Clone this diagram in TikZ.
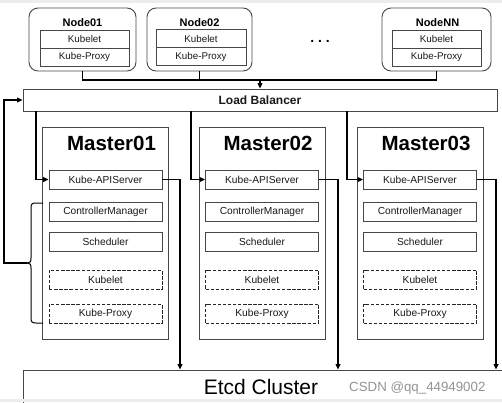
\documentclass[tikz,border=0pt]{standalone}
\usepackage{fontspec}
\setmainfont{Liberation Sans}
\usetikzlibrary{arrows.meta}
\begin{document}
\begin{tikzpicture}[x=1pt,y=-1pt,
  box/.style={draw=black!72,line width=0.9pt,inner sep=0pt,fill=white,text=black!90},
  nodebox/.style={box,rounded corners=9pt,minimum height=63pt},
  inner/.style={box,minimum height=18pt,font=\fontsize{9.8}{10}\selectfont},
  comp/.style={box,minimum width=113pt,minimum height=19pt,font=\fontsize{10.2}{11}\selectfont},
  dcomp/.style={comp,draw=black!85,line width=1pt,dash pattern=on 3.4pt off 1.7pt},
  master/.style={box,minimum width=126pt,minimum height=212pt},
  ntitle/.style={inner sep=0pt,font=\bfseries\fontsize{11}{12}\selectfont},
  mtitle/.style={inner sep=0pt,font=\bfseries\fontsize{20.5}{22}\selectfont},
  conn/.style={draw=black,line width=1.2pt},
  arr/.style={conn,-{Triangle[length=5.5pt,width=4.8pt]}}
]
\useasboundingbox (0,0) rectangle (502,402);
\fill[white] (0,0) rectangle (502,402);

% worker nodes
\node[nodebox,minimum width=107pt] (n1) at (82.5,39.5) {};
\node[ntitle] (n1t) at (82.5,23) {Node01};
\node[inner,minimum width=89pt] (n1k) at (84.5,39) {Kubelet};
\node[inner,minimum width=89pt] (n1p) at (84.5,57) {Kube-Proxy};

\node[nodebox,minimum width=105pt] (n2) at (199.5,39.5) {};
\node[ntitle] (n2t) at (199.5,23) {Node02};
\node[inner,minimum width=90pt] (n2k) at (201,38.5) {Kubelet};
\node[inner,minimum width=90pt] (n2p) at (201,56.5) {Kube-Proxy};

\node[inner sep=0pt,anchor=base,font=\bfseries\fontsize{14}{14}\selectfont] (dots) at (320,42) {.~.~.};

\node[nodebox,minimum width=109pt] (nN) at (436.5,39.5) {};
\node[ntitle] (nNt) at (437.5,23) {NodeNN};
\node[inner,minimum width=89pt] (nNk) at (436.5,39) {Kubelet};
\node[inner,minimum width=89pt] (nNp) at (436.5,57) {Kube-Proxy};

% load balancer
\node[box,minimum width=474pt,minimum height=22pt,font=\bfseries\fontsize{12}{13}\selectfont] (lb) at (260,100) {Load Balancer};

% masters
\foreach \i/\cx in {1/105.5,2/262,3/420}{
  \node[master] (m\i) at (\cx,233) {};
  \node[mtitle] (m\i t) at (\cx+6,143) {Master0\i};
  \node[comp] (api\i) at (\cx,179.5) {Kube-APIServer};
  \node[comp] (cm\i) at (\cx,211.5) {ControllerManager};
  \node[comp] (sch\i) at (\cx,242) {Scheduler};
  \node[dcomp] (kl\i) at (\cx,279.5) {Kubelet};
  \node[dcomp] (kp\i) at (\cx,313.5) {Kube-Proxy};
}

% etcd
\node[box,minimum width=537pt,minimum height=70pt] (etcd) at (291.5,405) {};
\node[inner sep=0pt,anchor=base,font=\fontsize{21}{22}\selectfont] (etcdt) at (261,394) {Etcd Cluster};

% connectors: nodes -> load balancer
\coordinate (jn) at (260,80);
\draw[conn] (n1.south) |- (nN.south |- jn) -- (nN.south);
\draw[conn] (n2.south) -- (n2.south |- jn);
\draw[arr] (jn) -- (jn |- lb.north);

% load balancer -> apiservers
\coordinate (d1) at (36,0);
\coordinate (d2) at (191,0);
\coordinate (d3) at (347,0);
\foreach \i in {1,2,3}{
  \draw[arr] (lb.south -| d\i) |- (api\i.west);
}

% apiservers -> etcd
\coordinate (c1) at (180,0);
\coordinate (c2) at (338,0);
\coordinate (c3) at (496,0);
\foreach \i in {1,2,3}{
  \draw[arr] (api\i.east) -| (etcd.north -| c\i);
}

% brace and feedback to load balancer
\coordinate (bt) at (27,263);
\draw[draw=black,line width=1pt] (43,203) -- (36,203) .. controls (32,203) and (31,204) .. (31,208) -- (31,258)
  .. controls (31,262) and (30,263) .. (bt) .. controls (30,263) and (31,264) .. (31,268) -- (31,318)
  .. controls (31,322) and (32,323) .. (36,323) -- (43,323);
\draw[arr] (bt) -- (4,263) |- (lb.west);

% watermark text
\node[inner sep=0pt,anchor=base west,text=black!42,font=\fontsize{13.3}{14}\selectfont] (wm) at (349,391) {CSDN @qq\_44949002};

% frame strips
\fill[black!7] (0,0) rectangle (502,3);
\fill[black!7] (0,398.5) rectangle (502,402);
\end{tikzpicture}
\end{document}
